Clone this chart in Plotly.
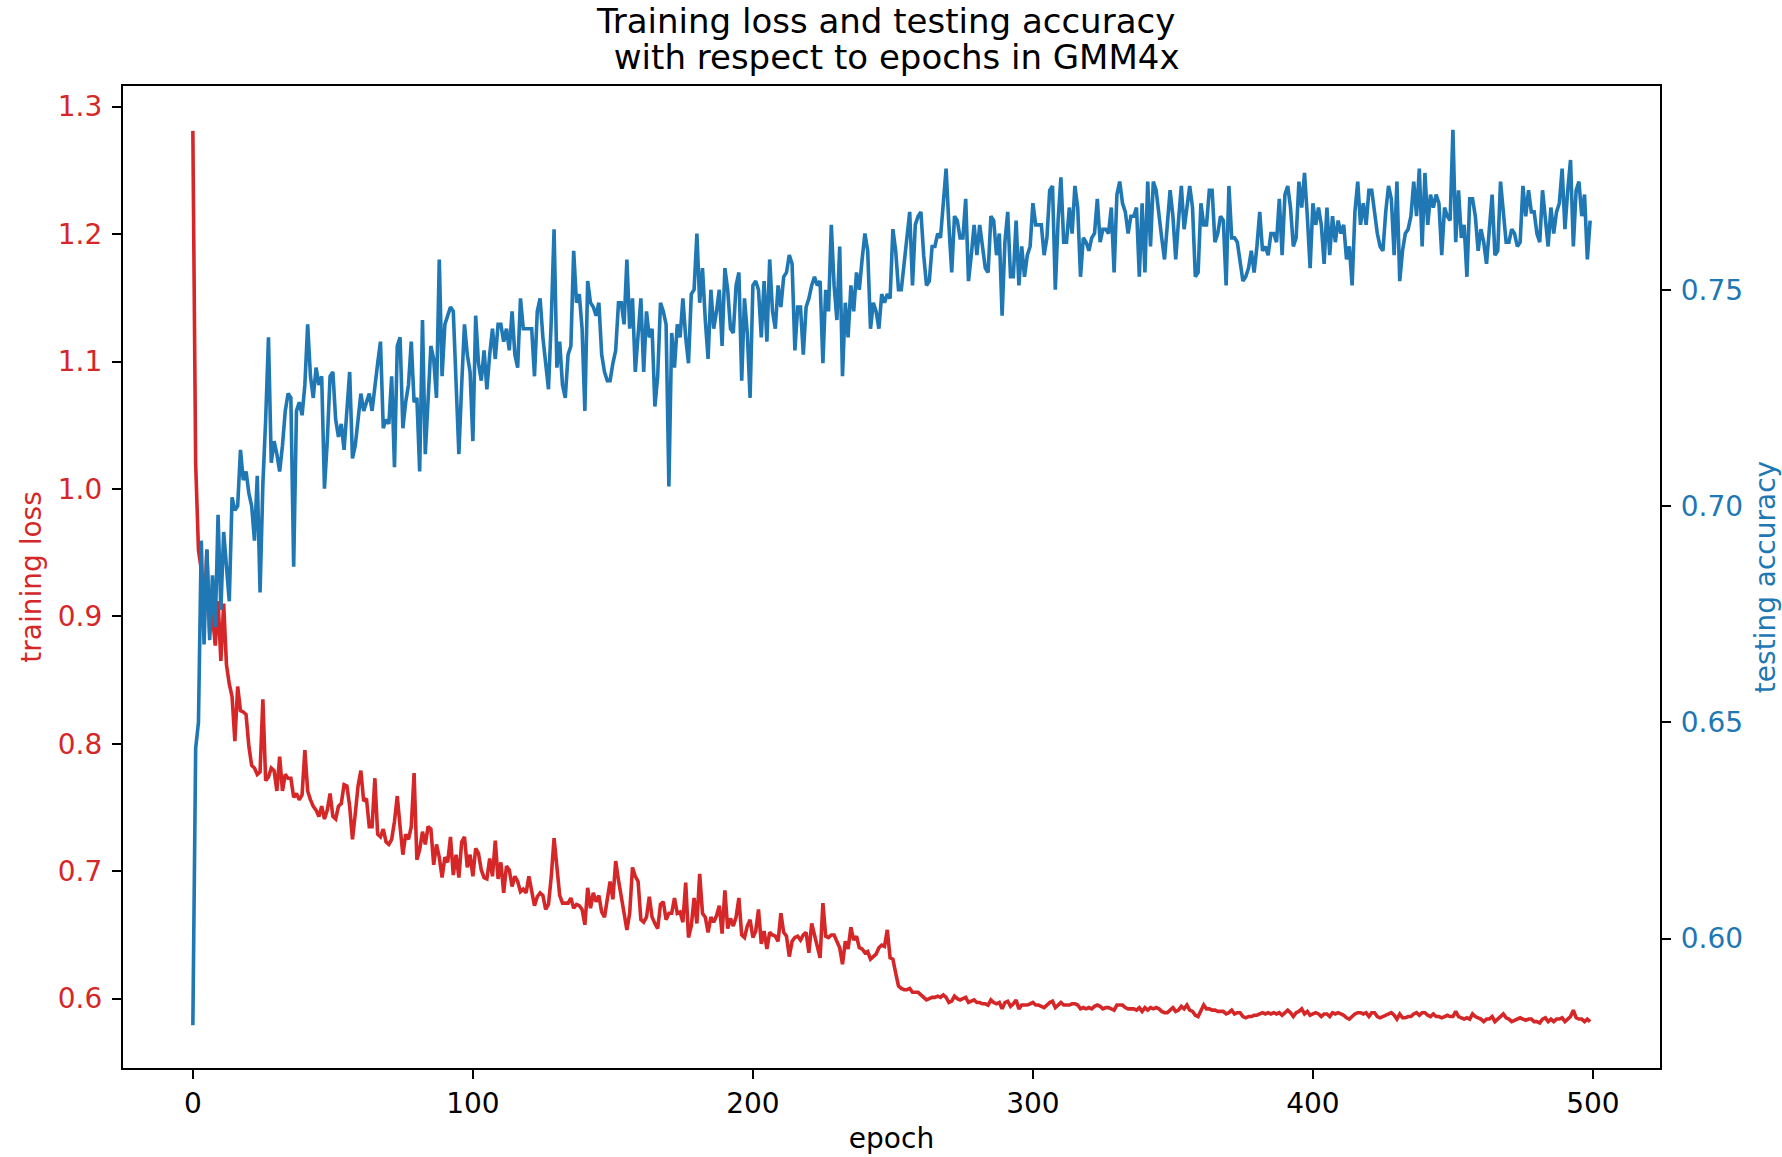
import plotly.graph_objects as go

# ---------------- data ----------------
acc_0_49 = [0.580,0.644,0.650,0.692,0.668,0.690,0.669,0.684,0.672,0.698,
            0.676,0.694,0.686,0.678,0.702,0.699,0.700,0.713,0.706,0.708,
            0.703,0.700,0.692,0.707,0.680,0.705,0.720,0.739,0.710,0.715,
            0.712,0.708,0.714,0.722,0.726,0.725,0.686,0.722,0.724,0.721,
            0.728,0.742,0.730,0.725,0.732,0.728,0.730,0.704,0.715,0.730]
acc_50_99 = [0.731,0.720,0.716,0.719,0.713,0.722,0.731,0.711,0.714,0.720,
             0.726,0.722,0.724,0.726,0.722,0.728,0.733,0.738,0.718,0.720,
             0.719,0.730,0.709,0.737,0.739,0.718,0.724,0.728,0.738,0.724,
             0.725,0.708,0.743,0.712,0.725,0.737,0.734,0.725,0.757,0.730,
             0.742,0.744,0.746,0.745,0.730,0.712,0.728,0.742,0.735,0.731]
acc_100_149 = [0.715,0.744,0.733,0.729,0.736,0.727,0.735,0.741,0.734,0.742,
               0.742,0.738,0.741,0.736,0.745,0.735,0.732,0.748,0.741,0.741,
               0.741,0.741,0.730,0.745,0.748,0.739,0.733,0.727,0.743,0.764,
               0.732,0.738,0.728,0.725,0.735,0.737,0.759,0.747,0.749,0.741,
               0.722,0.752,0.747,0.746,0.744,0.747,0.735,0.731,0.729,0.729]
acc_150_199 = [0.733,0.736,0.747,0.747,0.742,0.757,0.741,0.748,0.731,0.739,
               0.748,0.731,0.745,0.739,0.741,0.723,0.730,0.747,0.745,0.742,
               0.7045,0.740,0.732,0.742,0.739,0.748,0.739,0.733,0.749,0.750,
               0.763,0.747,0.755,0.743,0.734,0.750,0.741,0.745,0.750,0.737,
               0.755,0.750,0.741,0.740,0.751,0.754,0.729,0.748,0.740,0.725]
acc_200_249 = [0.751,0.752,0.750,0.739,0.752,0.738,0.757,0.745,0.741,0.751,
               0.746,0.753,0.754,0.758,0.756,0.736,0.746,0.746,0.735,0.746,
               0.748,0.751,0.753,0.751,0.752,0.733,0.750,0.745,0.765,0.751,
               0.743,0.760,0.730,0.747,0.739,0.751,0.745,0.754,0.750,0.757,
               0.763,0.759,0.741,0.747,0.745,0.741,0.749,0.747,0.749,0.748]
acc_250_299 = [0.764,0.759,0.750,0.750,0.756,0.762,0.768,0.751,0.765,0.767,
               0.768,0.758,0.751,0.752,0.760,0.760,0.763,0.762,0.770,0.778,
               0.765,0.754,0.767,0.766,0.762,0.762,0.771,0.752,0.758,0.765,
               0.758,0.765,0.760,0.755,0.754,0.767,0.766,0.758,0.763,0.744,
               0.761,0.768,0.753,0.753,0.766,0.751,0.760,0.753,0.758,0.760]
acc_300_349 = [0.770,0.765,0.765,0.765,0.758,0.762,0.773,0.774,0.750,0.766,
               0.776,0.761,0.761,0.769,0.763,0.774,0.769,0.753,0.762,0.761,
               0.759,0.762,0.763,0.771,0.761,0.764,0.764,0.763,0.769,0.754,
               0.772,0.775,0.770,0.768,0.763,0.767,0.767,0.769,0.753,0.770,
               0.754,0.775,0.760,0.775,0.773,0.767,0.762,0.757,0.766,0.773]
acc_350_399 = [0.767,0.757,0.766,0.774,0.764,0.769,0.774,0.769,0.753,0.754,
               0.770,0.765,0.765,0.773,0.773,0.761,0.763,0.767,0.766,0.751,
               0.774,0.762,0.762,0.761,0.756,0.752,0.753,0.755,0.759,0.754,
               0.760,0.768,0.759,0.760,0.758,0.763,0.763,0.761,0.771,0.758,
               0.772,0.774,0.769,0.760,0.762,0.775,0.769,0.777,0.767,0.755]
acc_400_449 = [0.770,0.765,0.769,0.765,0.756,0.769,0.758,0.767,0.761,0.766,
               0.763,0.765,0.757,0.760,0.751,0.768,0.775,0.765,0.770,0.765,
               0.773,0.773,0.768,0.763,0.760,0.759,0.768,0.774,0.771,0.758,
               0.775,0.752,0.759,0.763,0.764,0.767,0.775,0.767,0.778,0.760,
               0.777,0.765,0.772,0.769,0.772,0.770,0.758,0.769,0.767,0.766]
acc_450_499 = [0.787,0.761,0.773,0.762,0.765,0.753,0.771,0.771,0.767,0.759,
               0.764,0.761,0.756,0.765,0.772,0.758,0.759,0.775,0.768,0.761,
               0.761,0.764,0.763,0.760,0.761,0.774,0.767,0.773,0.768,0.768,
               0.763,0.761,0.773,0.767,0.760,0.769,0.763,0.768,0.770,0.778,
               0.764,0.773,0.780,0.760,0.773,0.775,0.767,0.772,0.757,0.766]

loss_0_49 = [1.281,1.020,0.952,0.937,0.892,0.952,0.887,0.902,0.877,0.912,
             0.865,0.910,0.862,0.847,0.837,0.802,0.845,0.826,0.825,0.823,
             0.798,0.783,0.781,0.776,0.778,0.835,0.771,0.774,0.781,0.779,
             0.763,0.790,0.763,0.776,0.773,0.773,0.758,0.761,0.756,0.760,
             0.795,0.763,0.756,0.751,0.748,0.743,0.751,0.741,0.748,0.761]
loss_50_99 = [0.743,0.741,0.751,0.753,0.768,0.767,0.751,0.725,0.745,0.767,
              0.779,0.755,0.757,0.735,0.735,0.773,0.729,0.727,0.733,0.723,
              0.721,0.725,0.739,0.759,0.735,0.713,0.729,0.725,0.735,0.777,
              0.709,0.717,0.731,0.721,0.735,0.733,0.705,0.721,0.711,0.695,
              0.711,0.707,0.727,0.697,0.713,0.695,0.723,0.727,0.703,0.713]
loss_100_149 = [0.696,0.718,0.714,0.701,0.695,0.694,0.710,0.696,0.724,0.694,
                0.707,0.683,0.704,0.701,0.688,0.696,0.692,0.684,0.686,0.683,
                0.696,0.684,0.673,0.680,0.683,0.681,0.670,0.674,0.696,0.726,
                0.704,0.681,0.675,0.675,0.675,0.679,0.671,0.674,0.673,0.670,
                0.658,0.687,0.671,0.683,0.676,0.681,0.668,0.664,0.680,0.692]
loss_150_199 = [0.678,0.708,0.693,0.678,0.667,0.654,0.667,0.703,0.696,0.692,
                0.662,0.660,0.664,0.680,0.664,0.659,0.655,0.674,0.676,0.662,
                0.667,0.667,0.679,0.667,0.668,0.660,0.691,0.648,0.657,0.679,
                0.659,0.698,0.667,0.664,0.652,0.664,0.660,0.665,0.673,0.651,
                0.685,0.655,0.663,0.657,0.664,0.679,0.650,0.648,0.657,0.662]
loss_200_249 = [0.648,0.653,0.670,0.643,0.653,0.639,0.652,0.650,0.649,0.645,
                0.667,0.652,0.649,0.633,0.645,0.648,0.649,0.646,0.650,0.652,
                0.636,0.659,0.650,0.641,0.632,0.675,0.649,0.648,0.650,0.650,
                0.645,0.640,0.627,0.645,0.639,0.656,0.646,0.649,0.640,0.639,
                0.636,0.637,0.631,0.633,0.635,0.640,0.642,0.641,0.654,0.632]
loss_250_299 = [0.631,0.620,0.610,0.608,0.607,0.607,0.608,0.605,0.605,0.605,
                0.603,0.601,0.599,0.600,0.601,0.601,0.602,0.601,0.603,0.601,
                0.597,0.598,0.602,0.600,0.599,0.600,0.601,0.597,0.598,0.599,
                0.597,0.597,0.596,0.596,0.595,0.599,0.597,0.596,0.597,0.592,
                0.597,0.598,0.594,0.596,0.599,0.592,0.595,0.595,0.595,0.596]
loss_300_349 = [0.597,0.595,0.595,0.594,0.593,0.595,0.597,0.598,0.593,0.595,
                0.597,0.595,0.595,0.595,0.596,0.596,0.595,0.592,0.593,0.592,
                0.593,0.592,0.594,0.595,0.594,0.592,0.593,0.593,0.592,0.591,
                0.595,0.595,0.595,0.593,0.592,0.592,0.592,0.591,0.593,0.590,
                0.593,0.591,0.593,0.592,0.593,0.592,0.590,0.589,0.589,0.591]
loss_350_399 = [0.593,0.590,0.591,0.594,0.592,0.595,0.591,0.590,0.587,0.586,
                0.590,0.595,0.592,0.592,0.591,0.591,0.590,0.590,0.590,0.588,
                0.589,0.591,0.588,0.589,0.589,0.586,0.585,0.586,0.586,0.587,
                0.587,0.588,0.589,0.588,0.589,0.588,0.589,0.588,0.589,0.587,
                0.589,0.591,0.589,0.586,0.589,0.590,0.592,0.588,0.590,0.587]
loss_400_449 = [0.588,0.589,0.588,0.586,0.588,0.588,0.586,0.589,0.588,0.589,
                0.588,0.587,0.585,0.584,0.586,0.588,0.589,0.589,0.588,0.589,
                0.586,0.589,0.589,0.586,0.585,0.586,0.587,0.588,0.589,0.587,
                0.584,0.588,0.585,0.585,0.586,0.586,0.588,0.589,0.587,0.589,
                0.589,0.587,0.586,0.588,0.586,0.586,0.585,0.586,0.587,0.586]
loss_450_499 = [0.586,0.590,0.586,0.585,0.584,0.585,0.584,0.588,0.586,0.585,
                0.584,0.582,0.584,0.584,0.586,0.582,0.584,0.586,0.588,0.585,
                0.584,0.582,0.583,0.584,0.585,0.584,0.583,0.584,0.584,0.582,
                0.582,0.581,0.584,0.585,0.582,0.584,0.582,0.584,0.584,0.585,
                0.582,0.584,0.586,0.591,0.585,0.584,0.584,0.582,0.584,0.582]

test_acc = (acc_0_49 + acc_50_99 + acc_100_149 + acc_150_199 + acc_200_249 +
            acc_250_299 + acc_300_349 + acc_350_399 + acc_400_449 + acc_450_499)
train_loss = (loss_0_49 + loss_50_99 + loss_100_149 + loss_150_199 + loss_200_249 +
              loss_250_299 + loss_300_349 + loss_350_399 + loss_400_449 + loss_450_499)
epochs = list(range(len(train_loss)))

x_ticks = [0, 100, 200, 300, 400, 500]
loss_ticks = [0.6, 0.7, 0.8, 0.9, 1.0, 1.1, 1.2, 1.3]
loss_tick_text = ["0.6", "0.7", "0.8", "0.9", "1.0", "1.1", "1.2", "1.3"]
acc_ticks = [0.60, 0.65, 0.70, 0.75]
acc_tick_text = ["0.60", "0.65", "0.70", "0.75"]
title_lines = ["Training loss and testing accuracy", "\u00a0with respect to epochs in GMM4x"]

RED = "#d62728"
BLUE = "#1f77b4"
FONT = "DejaVu Sans"
TICK_SIZE = 28

fig = go.Figure()
fig.add_trace(go.Scatter(x=epochs, y=train_loss, mode="lines",
                         line=dict(color=RED, width=3.6), yaxis="y", name="training loss"))
fig.add_trace(go.Scatter(x=epochs, y=test_acc, mode="lines",
                         line=dict(color=BLUE, width=3.6), yaxis="y2", name="testing accuracy"))

# two-line title (matplotlib-like tighter line spacing)
fig.add_annotation(text=title_lines[0], xref="paper", yref="paper", x=0.4964, y=1.0667,
                   xanchor="center", yanchor="middle", showarrow=False,
                   font=dict(family=FONT, size=34, color="black"))
fig.add_annotation(text=title_lines[1], xref="paper", yref="paper", x=0.5, y=1.0295,
                   xanchor="center", yanchor="middle", showarrow=False,
                   font=dict(family=FONT, size=34, color="black"))

fig.update_layout(
    width=1782, height=1157,
    margin=dict(l=123, r=122, t=86, b=89, autoexpand=False),
    paper_bgcolor="white", plot_bgcolor="white",
    showlegend=False,
    font=dict(family=FONT, size=TICK_SIZE, color="black"),
    xaxis=dict(range=[-24.95, 523.95], tickvals=x_ticks, ticks="outside", ticklen=9,
               tickwidth=2, tickcolor="black", showline=True, linecolor="black", linewidth=2.2,
               mirror=True, showgrid=False, zeroline=False, automargin=False,
               tickfont=dict(family=FONT, size=TICK_SIZE, color="black"),
               title=dict(text="epoch", font=dict(family=FONT, size=TICK_SIZE, color="black"), standoff=10)),
    yaxis=dict(range=[0.5456, 1.3162], tickvals=loss_ticks, ticktext=loss_tick_text,
               ticks="outside", ticklen=9, tickwidth=2, tickcolor="black", ticklabelstandoff=4,
               showline=True, linecolor="black", linewidth=2.2, showgrid=False, zeroline=False,
               automargin=False,
               tickfont=dict(family=FONT, size=TICK_SIZE, color=RED),
               title=dict(text="training loss", font=dict(family=FONT, size=TICK_SIZE, color=RED), standoff=8)),
    yaxis2=dict(range=[0.5701, 0.7971], tickvals=acc_ticks, ticktext=acc_tick_text,
                overlaying="y", side="right",
                ticks="outside", ticklen=9, tickwidth=2, tickcolor="black", ticklabelstandoff=4,
                showline=True, linecolor="black", linewidth=2.2, showgrid=False, zeroline=False,
                automargin=False,
                tickfont=dict(family=FONT, size=TICK_SIZE, color=BLUE),
                title=dict(text="testing accuracy", font=dict(family=FONT, size=TICK_SIZE, color=BLUE), standoff=16)),
)

fig.write_html("out.html")
